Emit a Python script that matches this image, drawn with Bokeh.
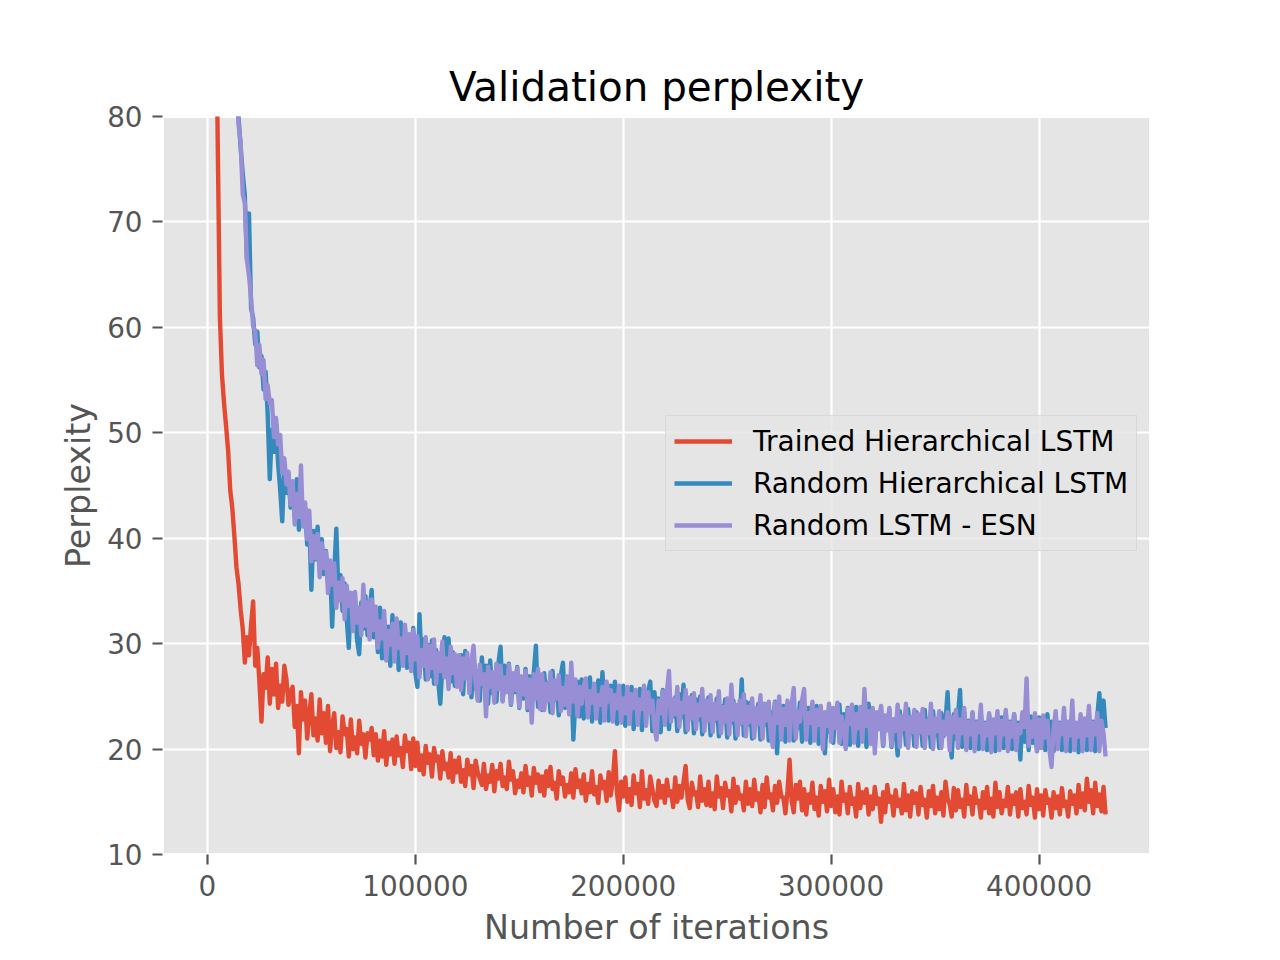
from bokeh.plotting import figure
from bokeh.models import Range1d, FixedTicker, Legend, LegendItem, BasicTickFormatter
from bokeh.embed import file_html
from bokeh.resources import INLINE

# ---------------- data ----------------
iterations = list(range(1000, 433000, 1000))  # evaluation steps (432)

trained_hier_lstm = [
    170, 140, 112, 93, 77, 61, 55.5, 52.8, 50.6, 48.2, 44.5, 42.8, 40.1, 37.2, 35.6, 33.2, 31.4, 28.2, 30.6, 28.9,
    31.8, 34.0, 27.9, 29.6, 26.4, 22.6, 27.1, 25.8, 28.7, 24.3, 27.6, 25.2, 28.1, 23.9, 26.0, 24.5, 27.9, 26.6, 24.2, 25.4,
    25.9, 22.1, 24.1, 19.6, 25.4, 22.8, 24.6, 21.0, 23.2, 25.2, 21.3, 22.9, 20.8, 24.7, 21.5, 23.4, 20.6, 24.1, 19.8, 22.2,
    23.4, 20.1, 21.6, 19.7, 23.1, 21.4, 21.9, 19.3, 22.8, 20.0, 21.1, 19.6, 22.7, 20.5, 21.4, 19.2, 21.5, 20.9, 22.0, 19.4,
    21.4, 18.9, 20.8, 19.3, 21.7, 18.5, 20.6, 19.5, 20.9, 18.6, 21.2, 19.4, 20.1, 18.3, 21.3, 19.8, 20.6, 18.1, 21.0, 18.4,
    20.6, 18.0, 19.4, 17.6, 20.3, 18.7, 19.5, 17.4, 20.1, 18.9, 19.3, 17.2, 19.8, 18.1, 18.6, 17.3, 19.6, 16.9, 18.9, 17.8,
    19.2, 16.9, 18.0, 16.5, 19.0, 17.6, 18.4, 16.3, 18.9, 17.8, 17.2, 16.6, 18.6, 16.2, 17.5, 16.9, 18.5, 16.0, 17.9, 17.2,
    18.6, 16.5, 17.3, 16.2, 18.8, 17.1, 17.9, 15.8, 17.0, 16.4, 17.7, 15.9, 18.4, 16.6, 17.3, 15.6, 18.2, 16.8, 17.6, 16.0,
    17.4, 15.6, 17.9, 16.5, 18.3, 16.2, 16.8, 15.3, 17.9, 16.7, 17.3, 15.5, 16.6, 15.9, 17.7, 15.4, 18.1, 16.4, 17.0, 15.8,
    17.6, 15.1, 16.7, 15.9, 17.9, 15.7, 16.4, 14.9, 17.5, 16.3, 16.9, 15.1, 17.8, 15.6, 17.1, 19.8, 15.8, 14.2, 16.9, 15.5,
    17.3, 15.0, 16.2, 14.7, 17.5, 15.8, 16.7, 14.5, 17.9, 15.3, 16.1, 14.8, 17.4, 16.2, 15.1, 14.6, 17.0, 15.4, 16.5, 14.9,
    17.1, 15.6, 16.0, 14.5, 17.3, 15.0, 16.5, 15.4, 16.9, 18.4, 15.2, 14.4, 16.8, 15.7, 15.9, 14.5, 17.4, 15.1, 16.2, 14.7,
    16.9, 14.6, 15.8, 14.3, 17.4, 15.5, 16.3, 14.4, 16.8, 15.6, 16.0, 14.1, 17.2, 14.9, 16.4, 15.3, 15.6, 14.2, 16.9, 14.8,
    16.2, 14.6, 17.1, 15.2, 15.8, 14.0, 16.6, 14.5, 17.3, 15.4, 15.7, 14.2, 16.5, 14.9, 16.9, 15.5, 15.4, 13.9, 16.0, 19.0,
    15.1, 14.0, 16.6, 15.3, 16.9, 14.2, 16.2, 13.8, 15.7, 14.9, 16.8, 14.3, 15.4, 13.7, 16.5, 15.0, 16.0, 14.1, 17.1, 14.6,
    16.2, 14.0, 15.5, 13.8, 16.9, 15.1, 15.7, 13.9, 16.4, 14.8, 15.3, 13.6, 16.7, 14.4, 15.9, 14.9, 16.2, 13.8, 15.5, 14.3,
    16.4, 14.8, 15.3, 13.1, 15.9, 14.0, 16.6, 15.0, 15.5, 13.7, 16.1, 14.6, 15.2, 13.9, 16.7, 14.2, 15.6, 13.6, 16.0, 14.9,
    15.8, 13.8, 16.4, 14.7, 15.2, 13.5, 16.0, 14.6, 16.5, 13.9, 15.4, 14.3, 15.9, 13.7, 16.9, 15.3, 14.8, 13.6, 16.3, 14.2,
    16.1, 14.5, 15.2, 13.6, 16.6, 14.8, 15.5, 13.8, 16.3, 14.9, 15.1, 13.5, 15.9, 14.4, 16.4, 13.9, 15.3, 13.6, 16.8, 14.5,
    15.9, 13.9, 15.1, 14.6, 16.4, 13.8, 15.6, 14.8, 15.9, 13.6, 16.2, 14.4, 15.0, 13.8, 16.5, 14.7, 15.4, 13.5, 16.2, 14.3,
    15.6, 13.7, 16.1, 14.9, 15.2, 13.5, 15.9, 14.4, 15.5, 13.8, 16.3, 14.6, 15.0, 13.6, 16.0, 14.8, 15.6, 13.9, 16.6, 14.5,
    15.8, 14.2, 17.2, 15.0, 16.1, 13.9, 16.8, 14.6, 15.7, 14.1, 16.4, 13.8,
]

random_hier_lstm = [
    370, 310, 268, 235, 205, 182, 162, 148, 133, 120, 108, 99, 91, 83, 79.8, 77, 74.6, 72.5, 66.5, 70.8,
    61.8, 60.9, 58.4, 59.6, 56.2, 57.3, 54.1, 55.8, 51.7, 45.6, 50.3, 48.2, 50.9, 47.1, 44.6, 41.6, 46.8, 44.3, 46.1, 42.9,
    44.8, 42.0, 45.6, 40.8, 43.7, 41.2, 42.9, 39.4, 41.5, 35.1, 40.7, 38.0, 41.1, 37.2, 39.9, 36.6, 38.8, 35.9, 37.4, 31.6,
    36.8, 40.9, 34.6, 36.5, 33.1, 35.7, 32.4, 29.6, 34.8, 32.0, 33.6, 30.3, 29.0, 33.9, 31.4, 34.5, 30.8, 33.2, 35.1, 30.6,
    32.9, 29.2, 33.4, 28.6, 32.3, 29.8, 31.6, 27.9, 32.7, 28.8, 31.2, 27.5, 32.0, 28.4, 31.4, 27.7, 30.8, 28.1, 31.5, 27.2,
    25.9, 32.8, 28.3, 30.4, 26.6, 29.9, 26.9, 30.3, 26.2, 29.4, 26.5, 24.3, 27.8, 30.6, 27.2, 30.5, 26.4, 29.2, 26.0, 28.8,
    26.1, 28.9, 25.2, 29.3, 26.8, 28.1, 24.9, 29.0, 25.7, 27.4, 24.6, 28.7, 26.0, 27.9, 24.3, 28.4, 25.3, 27.2, 24.5, 28.2,
    29.7, 24.6, 27.9, 25.6, 28.1, 24.2, 27.0, 25.4, 27.8, 23.9, 26.6, 24.8, 27.6, 23.7, 26.9, 24.9, 27.3, 29.8, 24.0, 27.0,
    23.7, 27.2, 24.6, 26.3, 23.5, 27.4, 24.7, 26.1, 23.2, 27.0, 28.2, 23.9, 26.5, 24.4, 26.8, 20.9, 24.6, 26.4, 23.1, 26.6,
    22.9, 26.3, 24.3, 26.8, 22.6, 25.7, 24.1, 26.5, 22.5, 27.3, 23.8, 25.9, 22.7, 26.0, 24.0, 26.4, 22.4, 25.4, 23.6, 26.0,
    22.2, 25.6, 23.7, 25.9, 21.9, 24.9, 23.5, 25.7, 21.8, 25.2, 23.4, 25.5, 26.4, 21.7, 25.4, 23.3, 24.8, 21.6, 25.6, 23.2,
    25.0, 21.9, 24.6, 23.1, 24.9, 21.7, 25.2, 23.0, 26.1, 21.6, 24.3, 22.9, 25.1, 21.5, 24.7, 22.8, 25.0, 21.4, 24.2, 22.7,
    24.9, 21.3, 23.9, 22.7, 24.8, 21.2, 24.1, 22.6, 24.7, 21.1, 23.8, 22.5, 24.6, 21.0, 24.0, 22.4, 26.6, 21.3, 24.5, 22.3,
    24.4, 21.0, 23.7, 22.4, 24.3, 20.9, 23.6, 22.3, 24.2, 20.8, 23.5, 22.2, 24.5, 19.6, 23.8, 22.1, 24.1, 20.7, 23.4, 22.0,
    24.0, 20.8, 23.5, 22.0, 24.4, 20.7, 23.3, 21.9, 23.9, 20.6, 23.2, 21.8, 24.1, 20.5, 23.1, 21.7, 19.6, 23.4, 21.6, 23.8,
    20.6, 23.7, 22.1, 24.2, 20.5, 23.3, 22.0, 23.9, 20.4, 23.2, 21.9, 24.0, 20.3, 23.1, 21.8, 23.8, 20.2, 24.3, 21.7, 23.0,
    20.4, 23.4, 21.9, 23.9, 20.3, 22.9, 21.8, 23.7, 20.2, 22.8, 21.7, 19.4, 23.6, 21.6, 22.9, 20.4, 23.8, 21.5, 23.0, 20.3,
    23.5, 21.5, 23.0, 20.3, 23.7, 21.4, 22.8, 20.2, 23.6, 21.3, 22.7, 20.1, 23.4, 21.2, 22.6, 25.4, 21.1, 19.2, 23.3, 21.0,
    23.2, 25.6, 20.2, 23.5, 21.2, 22.7, 20.1, 23.4, 21.1, 22.6, 20.0, 23.3, 21.0, 22.5, 19.9, 23.2, 20.9, 22.4, 19.8, 23.1,
    21.0, 23.0, 20.1, 23.4, 20.9, 22.6, 20.0, 23.3, 20.8, 22.5, 19.0, 23.2, 20.7, 22.4, 19.9, 23.1, 20.6, 22.3, 19.8, 23.0,
    20.7, 22.9, 19.9, 23.3, 20.6, 22.6, 19.8, 23.2, 20.5, 22.5, 19.9, 23.1, 20.4, 22.4, 19.8, 23.0, 20.3, 22.3, 19.7, 22.9,
    20.5, 22.8, 19.9, 23.2, 20.4, 22.6, 19.8, 23.1, 25.3, 21.5, 24.6, 22.0,
]

random_lstm_esn = [
    380, 320, 275, 240, 210, 185, 165, 150, 135, 122, 110, 101, 92, 84, 79.2, 77.5, 72.6, 71.8, 66.4, 64.9,
    62.8, 60.1, 59.6, 56.4, 58.3, 55.6, 56.9, 53.2, 54.5, 52.8, 53.1, 49.6, 51.4, 48.9, 49.8, 46.2, 47.6, 45.1, 46.3, 43.2,
    45.4, 41.3, 44.2, 42.0, 46.9, 41.1, 43.4, 39.9, 42.6, 37.8, 40.2, 38.1, 40.4, 36.3, 39.5, 37.2, 38.7, 34.8, 37.9, 35.6,
    37.6, 33.4, 35.8, 34.1, 36.2, 32.3, 35.5, 33.6, 34.8, 31.2, 34.9, 32.0, 33.4, 30.8, 35.6, 31.7, 33.9, 30.4, 34.2, 31.3,
    33.5, 29.6, 32.1, 30.5, 33.1, 28.4, 31.2, 29.9, 31.9, 28.3, 32.4, 29.6, 30.5, 27.9, 31.8, 29.1, 30.9, 27.4, 31.3, 28.5,
    30.7, 26.8, 29.4, 27.9, 30.6, 26.6, 29.8, 27.7, 30.4, 26.2, 29.1, 27.4, 30.2, 26.8, 28.6, 25.7, 29.7, 27.2, 29.0, 25.9,
    28.9, 25.6, 28.6, 26.7, 29.1, 25.3, 28.2, 29.8, 26.3, 24.6, 28.0, 26.2, 27.1, 23.1, 27.8, 25.9, 27.3, 24.4, 28.1, 25.7,
    27.9, 24.5, 26.8, 25.4, 28.0, 24.3, 27.2, 25.6, 27.7, 24.0, 26.9, 25.2, 27.4, 23.9, 26.6, 22.5, 27.1, 24.8, 27.6, 23.8,
    27.1, 23.7, 26.2, 24.6, 27.3, 23.4, 26.5, 24.8, 27.0, 23.6, 25.8, 24.2, 26.9, 23.3, 28.2, 24.5, 26.6, 23.1, 25.9, 24.3,
    26.0, 26.7, 23.0, 25.5, 24.4, 26.2, 22.9, 25.1, 24.2, 25.9, 22.7, 26.4, 24.5, 25.6, 22.6, 25.1, 23.9, 26.0, 22.5, 24.8,
    23.4, 25.9, 22.4, 25.2, 23.9, 25.6, 22.3, 24.7, 23.8, 26.0, 22.2, 25.4, 23.5, 24.6, 22.1, 20.9, 24.6, 23.4, 25.5, 22.3,
    25.4, 27.4, 22.6, 24.7, 23.3, 25.9, 22.1, 24.4, 23.5, 25.6, 21.8, 24.9, 22.9, 25.3, 21.9, 24.2, 23.2, 25.7, 21.7, 24.6,
    22.7, 25.1, 21.6, 24.3, 22.9, 25.5, 21.5, 24.0, 22.6, 24.8, 21.4, 26.1, 22.8, 24.2, 21.3, 24.6, 22.5, 25.2, 21.2, 24.0,
    22.6, 24.8, 21.1, 23.9, 22.4, 25.1, 21.0, 24.3, 22.7, 24.5, 21.3, 20.2, 24.4, 22.5, 25.0, 20.9, 23.8, 22.3, 24.6, 20.8,
    24.2, 25.8, 21.0, 23.6, 22.6, 24.6, 25.7, 20.9, 23.4, 22.5, 24.5, 20.8, 23.7, 22.3, 24.1, 20.0, 23.5, 22.2, 24.3, 20.7,
    23.9, 22.0, 24.4, 20.6, 23.1, 22.1, 20.0, 23.8, 22.4, 24.2, 20.6, 23.3, 22.0, 24.0, 20.7, 25.7, 22.2, 23.6, 20.5, 23.9,
    19.6, 23.5, 21.9, 24.1, 20.4, 23.2, 21.8, 23.9, 20.3, 22.8, 21.7, 24.2, 20.2, 23.1, 21.9, 24.3, 20.1, 23.0, 21.6, 23.7,
    20.2, 23.3, 21.6, 23.8, 20.1, 22.7, 21.5, 24.3, 20.0, 22.9, 21.7, 23.6, 20.1, 22.6, 21.4, 23.5, 19.9, 23.0, 21.6, 23.7,
    20.1, 22.8, 21.5, 23.9, 19.9, 22.6, 21.4, 23.5, 19.8, 22.5, 21.6, 24.2, 20.0, 22.4, 21.3, 23.4, 19.7, 22.8, 21.5, 23.6,
    19.9, 22.7, 21.4, 23.7, 19.8, 22.5, 21.2, 23.3, 19.9, 22.3, 21.5, 23.5, 22.1, 26.7, 20.3, 22.6, 21.2, 23.4, 19.8, 22.8,
    20.1, 23.2, 21.1, 22.7, 19.9, 18.3, 21.9, 23.6, 20.0, 22.4, 21.4, 23.9, 19.8, 22.6, 21.3, 24.6, 19.9, 22.5, 21.2, 23.3,
    19.8, 22.9, 21.3, 24.1, 19.9, 22.5, 21.4, 23.4, 19.8, 22.7, 21.5, 19.3,
]

series_labels = ["Trained Hierarchical LSTM", "Random Hierarchical LSTM", "Random LSTM - ESN"]
x_ticks = [0, 100000, 200000, 300000, 400000]
y_ticks = [10, 20, 30, 40, 50, 60, 70, 80]

# ---------------- style ----------------
colors = ["#E24A33", "#348ABD", "#988ED5"]
FONT = "DejaVu Sans"
GREY = "#555555"

p = figure(
    width=1280, height=960,
    output_backend="svg", toolbar_location=None,
    x_range=Range1d(-21600, 453600), y_range=Range1d(10, 80),
    min_border_left=162, min_border_right=130,
    min_border_top=116, min_border_bottom=106,
    title="Validation perplexity",
)
p.background_fill_color = "#E5E5E5"
p.border_fill_color = "white"
p.outline_line_color = "white"
p.outline_line_width = 2.8

p.title.text_font = FONT
p.title.text_font_size = "40.4px"
p.title.text_font_style = "normal"
p.title.text_color = "black"
p.title.align = "center"
p.title.standoff = 12

for g in (p.xgrid[0], p.ygrid[0]):
    g.grid_line_color = "white"
    g.grid_line_width = 2.2

p.xgrid[0].ticker = FixedTicker(ticks=x_ticks)
p.ygrid[0].ticker = FixedTicker(ticks=y_ticks)

for ax in (p.xaxis[0], p.yaxis[0]):
    ax.axis_line_color = None
    ax.major_tick_line_color = GREY
    ax.major_tick_line_width = 2.2
    ax.major_tick_in = 0
    ax.major_tick_out = 10
    ax.minor_tick_line_color = None
    ax.major_label_text_font = FONT
    ax.major_label_text_font_size = "27.8px"
    ax.major_label_text_color = GREY
    ax.axis_label_text_font = FONT
    ax.axis_label_text_font_size = "33.3px"
    ax.axis_label_text_color = GREY
    ax.axis_label_text_font_style = "normal"

p.xaxis[0].ticker = FixedTicker(ticks=x_ticks)
p.yaxis[0].ticker = FixedTicker(ticks=y_ticks)
p.xaxis[0].formatter = BasicTickFormatter(use_scientific=False)
p.xaxis[0].major_label_standoff = 10
p.yaxis[0].major_label_standoff = 10
p.xaxis[0].axis_label = "Number of iterations"
p.yaxis[0].axis_label = "Perplexity"
p.xaxis[0].axis_label_standoff = 9
p.yaxis[0].axis_label_standoff = 6

renderers = []
for ys, c in zip([trained_hier_lstm, random_hier_lstm, random_lstm_esn], colors):
    n = min(len(iterations), len(ys))
    r = p.line(iterations[:n], ys[:n], line_color=c, line_width=4.4, line_join="round")
    renderers.append(r)

legend = Legend(
    items=[LegendItem(label=lab, renderers=[r]) for lab, r in zip(series_labels, renderers)],
    location=(503, 303),
    orientation="vertical",
    background_fill_color="#E5E5E5",
    background_fill_alpha=0.8,
    border_line_color="#CCCCCC",
    border_line_width=1.5,
    label_text_font=FONT,
    label_text_font_size="28px",
    label_text_color="black",
    glyph_width=58,
    glyph_height=34,
    label_height=34,
    spacing=8,
    padding=8,
    margin=0,
    label_standoff=21,
)
p.add_layout(legend)

open("out.html", "w").write(file_html(p, INLINE))
